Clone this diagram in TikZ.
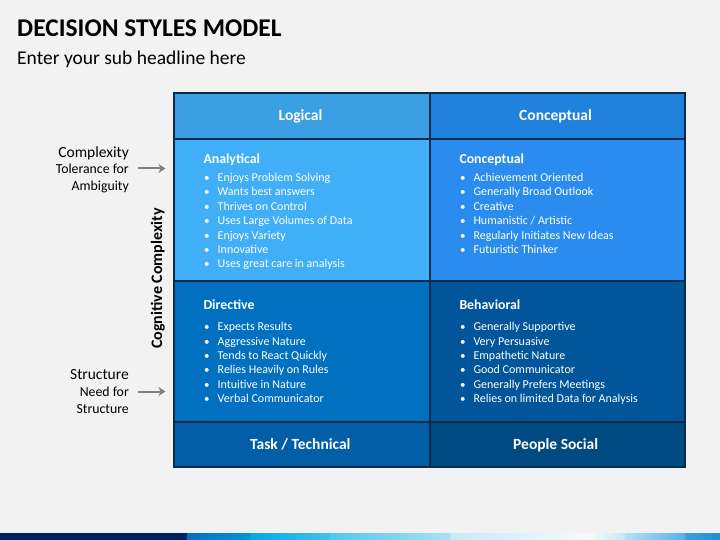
\documentclass[tikz,border=0pt]{standalone}
\usepackage{fontspec}
\setmainfont{Carlito}
\usetikzlibrary{arrows.meta}
\definecolor{bg}{HTML}{F2F2F2}
\definecolor{gridline}{HTML}{0F2B4A}
\definecolor{hdA}{HTML}{3B9FE4}
\definecolor{hdB}{HTML}{2182DD}
\definecolor{ceA}{HTML}{41AEF8}
\definecolor{ceB}{HTML}{2A8CEF}
\definecolor{ceC}{HTML}{0170C1}
\definecolor{ceD}{HTML}{01559A}
\definecolor{ftA}{HTML}{035EA8}
\definecolor{ftB}{HTML}{004A82}
\definecolor{arrgray}{HTML}{7F7F7F}
\definecolor{navy}{HTML}{002060}
\definecolor{st1}{HTML}{0070C0}
\definecolor{st2}{HTML}{0096D8}
\definecolor{st3}{HTML}{00A8E8}
\definecolor{st4}{HTML}{3FC3EE}
\definecolor{st5}{HTML}{50C8F0}
\definecolor{st6}{HTML}{A8E0F5}
\definecolor{st7}{HTML}{C5EBF8}
\definecolor{st8}{HTML}{F5F9FC}
\definecolor{st9}{HTML}{C5E8F8}
\definecolor{st10}{HTML}{B5E0F6}
\definecolor{st11}{HTML}{5AB0EA}
\definecolor{st12}{HTML}{3DA0E2}
\definecolor{st13}{HTML}{1E8ED6}
\begin{document}
\begin{tikzpicture}[x=1pt,y=-1pt,
  cell/.style={draw=gridline, line width=2pt, inner sep=0pt, anchor=north west},
  hdtext/.style={text=white, font=\fontsize{15.5}{18}\selectfont\bfseries, anchor=base, inner sep=0pt},
  cellhead/.style={text=white, font=\fontsize{13.8}{16}\selectfont\bfseries, anchor=base west, inner sep=0pt},
  itemtext/.style={text=white, font=\fontsize{12}{14.4}\selectfont, anchor=base west, inner sep=0pt},
  bul/.style={text=white, font=\fontsize{11}{14.4}\selectfont, anchor=base west, inner sep=0pt},
  sidebig/.style={font=\fontsize{15.5}{18}\selectfont, anchor=base east, inner sep=0pt},
  sidesmall/.style={font=\fontsize{13.8}{16}\selectfont, anchor=base east, inner sep=0pt},
  arr/.style={draw=arrgray, line width=2pt, -{Stealth[length=7pt,width=9pt]}}
]
\useasboundingbox (0,0) rectangle (720,540);
\fill[bg] (0,0) rectangle (720,540);

% title
\node[anchor=base west, inner sep=0pt, font=\fontsize{25.5}{30}\selectfont\bfseries] (title) at (17,36.5) {DECISION STYLES MODEL};
\node[anchor=base west, inner sep=0pt, font=\fontsize{19.5}{23}\selectfont] (sub) at (17,65) {Enter your sub headline here};

% grid cells
\node[cell, fill=hdA, minimum width=256pt, minimum height=46pt] (hL) at (173,92) {};
\node[cell, fill=hdB, minimum width=255pt, minimum height=46pt] (hR) at (428.5,92) {};
\node[cell, fill=ceA, minimum width=256pt, minimum height=142pt] (cA) at (173,138) {};
\node[cell, fill=ceB, minimum width=255pt, minimum height=142pt] (cB) at (428.5,138) {};
\node[cell, fill=ceC, minimum width=256pt, minimum height=141pt] (cC) at (173,280) {};
\node[cell, fill=ceD, minimum width=255pt, minimum height=141pt] (cD) at (428.5,280) {};
\node[cell, fill=ftA, minimum width=256pt, minimum height=45pt] (fL) at (173,421) {};
\node[cell, fill=ftB, minimum width=255pt, minimum height=45pt] (fR) at (428.5,421) {};

% header / footer texts
\node[hdtext] (tL) at (300.5,120.3) {Logical};
\node[hdtext] (tR) at (555.5,120.3) {Conceptual};
\node[hdtext] (tF1) at (300.3,449.3) {Task / Technical};
\node[hdtext] (tF2) at (555.7,449.3) {People Social};

% cell headings
\node[cellhead] (hA) at (203.3,164) {Analytical};
\node[cellhead] (hB) at (459.3,164) {Conceptual};
\node[cellhead] (hC) at (203.3,309.5) {Directive};
\node[cellhead] (hD) at (459.3,309.5) {Behavioral};

% bullets
\foreach \t [count=\i] in {Enjoys Problem Solving, Wants best answers, Thrives on Control, Uses Large Volumes of Data, Enjoys Variety, Innovative, Uses great care in analysis}{
  \node[bul] (ba\i) at (204,{181.5+14.4*(\i-1)}) {\textbullet};
  \node[itemtext] (ia\i) at (217.5,{181.5+14.4*(\i-1)}) {\t};
}
\foreach \t [count=\i] in {Achievement Oriented, Generally Broad Outlook, Creative, Humanistic / Artistic, Regularly Initiates New Ideas, Futuristic Thinker}{
  \node[bul] (bb\i) at (460,{181.5+14.4*(\i-1)}) {\textbullet};
  \node[itemtext] (ib\i) at (473.3,{181.5+14.4*(\i-1)}) {\t};
}
\foreach \t [count=\i] in {Expects Results, Aggressive Nature, Tends to React Quickly, Relies Heavily on Rules, Intuitive in Nature, Verbal Communicator}{
  \node[bul] (bc\i) at (204,{330.7+14.4*(\i-1)}) {\textbullet};
  \node[itemtext] (ic\i) at (217.5,{330.7+14.4*(\i-1)}) {\t};
}
\foreach \t [count=\i] in {Generally Supportive, Very Persuasive, Empathetic Nature, Good Communicator, Generally Prefers Meetings, Relies on limited Data for Analysis}{
  \node[bul] (bd\i) at (460,{330.7+14.4*(\i-1)}) {\textbullet};
  \node[itemtext] (id\i) at (473.3,{330.7+14.4*(\i-1)}) {\t};
}

% side labels
\node[sidebig] (s1) at (129,157.3) {Complexity};
\node[sidesmall] (s2) at (129,174) {Tolerance for};
\node[sidesmall] (s3) at (129,191) {Ambiguity};
\node[sidebig] (s4) at (129,379.3) {Structure};
\node[sidesmall] (s5) at (129,396.7) {Need for};
\node[sidesmall] (s6) at (129,413.3) {Structure};

\coordinate (a1s) at (138,168.5);
\coordinate (a1e) at (165.5,168.5);
\coordinate (a2s) at (138,391.5);
\coordinate (a2e) at (165.5,391.5);
\draw[arr] (a1s) -- (a1e);
\draw[arr] (a2s) -- (a2e);

\node[rotate=90, anchor=base, inner sep=0pt, font=\fontsize{16}{19}\selectfont\bfseries] (cog) at (162,278.5) {Cognitive Complexity};

% bottom stripe
\fill[navy] (0,533) rectangle (187,540);
\shade[left color=st1, right color=st2] (187,533) rectangle (250,540);
\shade[left color=st3, right color=st4] (250,533) rectangle (330,540);
\shade[left color=st5, right color=st6] (330,533) rectangle (450,540);
\shade[left color=st7, right color=st8] (450,533) rectangle (590,540);
\shade[left color=st8, right color=st9] (590,533) rectangle (625,540);
\shade[left color=st10, right color=st11] (625,533) rectangle (685,540);
\shade[left color=st12, right color=st13] (685,533) rectangle (720,540);
\end{tikzpicture}
\end{document}
